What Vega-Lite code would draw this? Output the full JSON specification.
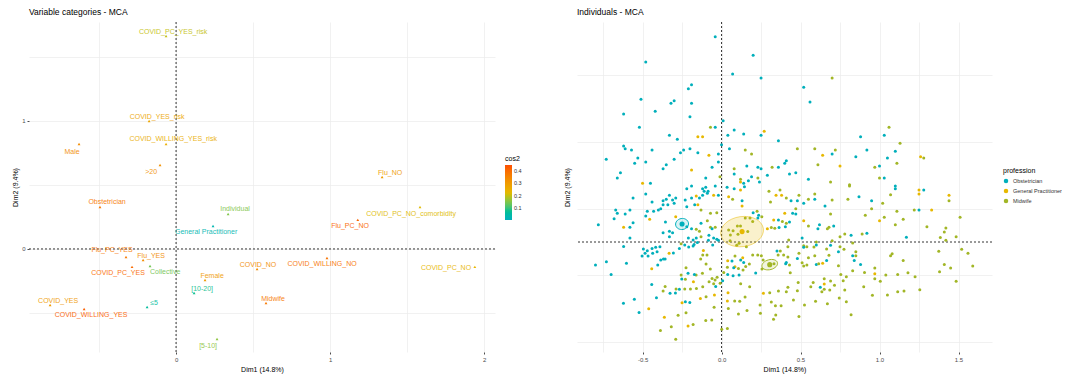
{
"$schema": "https://vega.github.io/schema/vega-lite/v6.json",
"background": "white",
"padding": {"left": 11, "top": 8, "right": 0, "bottom": 2},
"config": {
 "view": {"stroke": null},
 "font": "Liberation Sans",
 "axis": {"gridColor": "#EBEBEB", "gridWidth": 0.7, "domain": false, "labelFontSize": 6, "labelColor": "#4D4D4D", "titleFontSize": 7, "titleFontWeight": "normal", "titleColor": "black", "tickColor": "#4D4D4D", "tickSize": 2, "labelPadding": 2, "titlePadding": 3},
 "title": {"fontSize": 8.5, "fontWeight": "normal", "anchor": "start", "frame": "group", "offset": 5, "color": "black"},
 "legend": {"titleFontWeight": "normal", "titleFontSize": 7, "labelFontSize": 5.5, "labelColor": "#333333", "titleColor": "black"},
 "concat": {"spacing": 41}
},
"resolve": {"scale": {"color": "independent"}, "legend": {"color": "independent"}},
"hconcat": [
{
 "width": 466, "height": 330,
 "title": {"text": "Variable categories - MCA"},
 "data": {"values": [
  {"cat":"COVID_PC_YES_risk","x":-0.065,"y":1.664,"lx":-0.019,"ly":1.695,"cos2":0.2},
  {"cat":"COVID_YES_risk","x":-0.175,"y":1.0,"lx":-0.123,"ly":1.031,"cos2":0.27},
  {"cat":"COVID_WILLING_YES_risk","x":-0.065,"y":0.82,"lx":-0.019,"ly":0.859,"cos2":0.25},
  {"cat":"Male","x":-0.63,"y":0.82,"lx":-0.675,"ly":0.758,"cos2":0.33},
  {"cat":">20","x":-0.104,"y":0.656,"lx":-0.162,"ly":0.602,"cos2":0.32},
  {"cat":"Flu_NO","x":1.338,"y":0.5625,"lx":1.39,"ly":0.594,"cos2":0.3},
  {"cat":"Obstetrician","x":-0.494,"y":0.328,"lx":-0.448,"ly":0.367,"cos2":0.37},
  {"cat":"Individual","x":0.338,"y":0.273,"lx":0.383,"ly":0.3125,"cos2":0.15},
  {"cat":"General Practitioner","x":0.24,"y":0.18,"lx":0.195,"ly":0.133,"cos2":0.03},
  {"cat":"Flu_PC_YES","x":-0.325,"y":-0.0625,"lx":-0.416,"ly":-0.008,"cos2":0.37},
  {"cat":"Flu_YES","x":-0.214,"y":-0.086,"lx":-0.162,"ly":-0.055,"cos2":0.33},
  {"cat":"COVID_PC_YES","x":-0.286,"y":-0.14,"lx":-0.377,"ly":-0.1875,"cos2":0.4},
  {"cat":"Collective","x":-0.169,"y":-0.133,"lx":-0.071,"ly":-0.18,"cos2":0.14},
  {"cat":"Female","x":0.188,"y":-0.242,"lx":0.234,"ly":-0.211,"cos2":0.3},
  {"cat":"[10-20]","x":0.117,"y":-0.344,"lx":0.169,"ly":-0.3125,"cos2":0.08},
  {"cat":"COVID_YES","x":-0.818,"y":-0.4375,"lx":-0.766,"ly":-0.406,"cos2":0.3},
  {"cat":"COVID_WILLING_YES","x":-0.597,"y":-0.469,"lx":-0.552,"ly":-0.516,"cos2":0.42},
  {"cat":"≤5","x":-0.188,"y":-0.453,"lx":-0.143,"ly":-0.422,"cos2":0.06},
  {"cat":"[5-10]","x":0.266,"y":-0.703,"lx":0.208,"ly":-0.758,"cos2":0.16},
  {"cat":"COVID_NO","x":0.526,"y":-0.156,"lx":0.532,"ly":-0.125,"cos2":0.33},
  {"cat":"COVID_WILLING_NO","x":0.98,"y":-0.07,"lx":0.948,"ly":-0.117,"cos2":0.38},
  {"cat":"Midwife","x":0.584,"y":-0.422,"lx":0.63,"ly":-0.39,"cos2":0.37},
  {"cat":"Flu_PC_NO","x":1.18,"y":0.227,"lx":1.13,"ly":0.18,"cos2":0.41},
  {"cat":"COVID_PC_NO_comorbidity","x":1.584,"y":0.328,"lx":1.526,"ly":0.273,"cos2":0.22},
  {"cat":"COVID_PC_NO","x":1.94,"y":-0.14,"lx":1.753,"ly":-0.148,"cos2":0.23}
 ]},
 "layer": [
  {"data": {"values": [{"v": 0}]}, "mark": {"type": "rule", "strokeDash": [2, 2], "color": "black", "strokeWidth": 0.8}, "encoding": {"x": {"field": "v", "type": "quantitative"}}},
  {"data": {"values": [{"v": 0}]}, "mark": {"type": "rule", "strokeDash": [2, 2], "color": "black", "strokeWidth": 0.8}, "encoding": {"y": {"field": "v", "type": "quantitative"}}},
  {"mark": {"type": "point", "shape": "triangle-up", "filled": true, "size": 8, "opacity": 1},
   "encoding": {
    "x": {"field": "x", "type": "quantitative", "scale": {"domain": [-0.955, 2.071], "nice": false, "zero": false},
          "axis": {"title": "Dim1 (14.8%)", "values": [-0.5, 0, 0.5, 1, 1.5, 2], "labelExpr": "datum.value % 1 === 0 ? format(datum.value, 'd') : ''", "tickOpacity": {"condition": {"test": "datum.value % 1 === 0", "value": 1}, "value": 0}}},
    "y": {"field": "y", "type": "quantitative", "scale": {"domain": [-0.805, 1.773], "nice": false, "zero": false},
          "axis": {"title": "Dim2 (9.4%)", "values": [-0.5, 0, 0.5, 1, 1.5], "labelExpr": "datum.value % 1 === 0 ? format(datum.value, 'd') : ''", "tickOpacity": {"condition": {"test": "datum.value % 1 === 0", "value": 1}, "value": 0}}},
    "color": {"field": "cos2", "type": "quantitative", "scale": {"domain": [0.005, 0.225, 0.445], "range": ["#00AFBB", "#E7B800", "#FC4E07"]},
              "legend": {"title": "cos2", "orient": "none", "legendX": 476, "legendY": 133, "gradientLength": 55, "gradientThickness": 7, "values": [0.1, 0.2, 0.3, 0.4], "format": ".1f", "labelOffset": 2, "titlePadding": 3}}
   }},
  {"mark": {"type": "text", "fontSize": 7, "align": "center", "baseline": "middle", "opacity": 0.9},
   "encoding": {
    "x": {"field": "lx", "type": "quantitative"},
    "y": {"field": "ly", "type": "quantitative"},
    "text": {"field": "cat"},
    "color": {"field": "cos2", "type": "quantitative"}
   }}
 ]
},
{
 "width": 415, "height": 330,
 "title": {"text": "Individuals - MCA"},
 "data": {"values": [
{"x":-0.04,"y":1.54,"p":"O"},{"x":0.2,"y":1.4,"p":"O"},{"x":-0.48,"y":1.35,"p":"O"},{"x":0.07,"y":1.26,"p":"O"},{"x":0.25,"y":1.23,"p":"O"},{"x":-0.19,"y":1.18,"p":"O"},{"x":-0.21,"y":1.15,"p":"O"},{"x":-0.51,"y":1.07,"p":"O"},{"x":-0.3,"y":1.06,"p":"O"},{"x":-0.32,"y":1.04,"p":"O"},{"x":-0.19,"y":1.04,"p":"O"},{"x":-0.42,"y":0.98,"p":"O"},{"x":-0.62,"y":0.96,"p":"O"},{"x":-0.2,"y":0.94,"p":"O"},{"x":0.01,"y":0.91,"p":"O"},{"x":-0.52,"y":0.86,"p":"O"},{"x":-0.04,"y":0.86,"p":"O"},{"x":0.08,"y":0.84,"p":"O"},{"x":0.14,"y":0.81,"p":"O"},{"x":0.04,"y":0.8,"p":"O"},{"x":-0.33,"y":0.8,"p":"O"},{"x":0.25,"y":0.8,"p":"O"},{"x":-0.28,"y":0.77,"p":"O"},{"x":0.36,"y":0.76,"p":"O"},{"x":0,"y":0.73,"p":"O"},{"x":-0.62,"y":0.72,"p":"O"},{"x":-0.61,"y":0.7,"p":"O"},{"x":-0.57,"y":0.69,"p":"O"},{"x":-0.44,"y":0.69,"p":"O"},{"x":-0.2,"y":0.7,"p":"O"},{"x":-0.24,"y":0.69,"p":"O"},{"x":0.05,"y":0.7,"p":"O"},{"x":-0.15,"y":0.67,"p":"O"},{"x":-0.26,"y":0.67,"p":"O"},{"x":-0.02,"y":0.66,"p":"O"},{"x":-0.53,"y":0.63,"p":"O"},{"x":-0.73,"y":0.62,"p":"O"},{"x":-0.3,"y":0.62,"p":"O"},{"x":-0.48,"y":0.6,"p":"O"},{"x":-0.55,"y":0.59,"p":"O"},{"x":-0.02,"y":0.6,"p":"O"},{"x":0.41,"y":0.61,"p":"O"},{"x":0.4,"y":0.59,"p":"O"},{"x":-0.35,"y":0.58,"p":"O"},{"x":-0.37,"y":0.55,"p":"O"},{"x":-0.06,"y":0.56,"p":"O"},{"x":0.16,"y":0.57,"p":"O"},{"x":0.23,"y":0.56,"p":"O"},{"x":0.25,"y":0.55,"p":"O"},{"x":0.36,"y":0.56,"p":"O"},{"x":-0.64,"y":0.52,"p":"O"},{"x":0.08,"y":0.51,"p":"O"},{"x":0.29,"y":0.5,"p":"O"},{"x":-0.66,"y":0.48,"p":"O"},{"x":-0.1,"y":0.48,"p":"O"},{"x":0.19,"y":0.49,"p":"O"},{"x":0.17,"y":0.46,"p":"O"},{"x":0.14,"y":0.44,"p":"O"},{"x":0.24,"y":0.45,"p":"O"},{"x":-0.45,"y":0.44,"p":"O"},{"x":-0.19,"y":0.42,"p":"O"},{"x":-0.04,"y":0.42,"p":"O"},
{"x":-0.07,"y":0.86,"p":"M"},{"x":0.15,"y":0.69,"p":"M"},{"x":0.19,"y":0.66,"p":"M"},{"x":0.08,"y":0.55,"p":"M"},{"x":0.32,"y":0.56,"p":"M"},{"x":-0.01,"y":0.49,"p":"M"},{"x":0.12,"y":0.47,"p":"M"},{"x":0.23,"y":0.48,"p":"M"},
{"x":0.27,"y":0.83,"p":"G"},{"x":-0.12,"y":0.79,"p":"G"},{"x":-0.15,"y":0.79,"p":"G"},{"x":-0.08,"y":0.65,"p":"G"},{"x":-0.19,"y":0.54,"p":"G"},{"x":0.12,"y":0.45,"p":"G"},{"x":-0.5,"y":0.44,"p":"G"},
{"x":0.7,"y":1.23,"p":"M"},{"x":1.06,"y":0.86,"p":"M"},{"x":1.13,"y":0.74,"p":"M"},{"x":0.48,"y":0.7,"p":"M"},{"x":0.59,"y":0.7,"p":"M"},{"x":0.72,"y":0.69,"p":"M"},{"x":1.28,"y":0.63,"p":"M"},{"x":0.61,"y":0.58,"p":"M"},{"x":1.11,"y":0.59,"p":"M"},{"x":0.97,"y":0.56,"p":"M"},{"x":0.69,"y":0.45,"p":"M"},{"x":0.81,"y":0.43,"p":"M"},{"x":1.0,"y":0.48,"p":"M"},
{"x":0.52,"y":1.16,"p":"O"},{"x":0.56,"y":1.05,"p":"O"},{"x":0.88,"y":0.79,"p":"O"},{"x":1.03,"y":0.8,"p":"O"},{"x":0.92,"y":0.69,"p":"O"},{"x":0.7,"y":0.66,"p":"O"},{"x":1.1,"y":0.68,"p":"O"},{"x":0.85,"y":0.64,"p":"O"},{"x":1.05,"y":0.63,"p":"O"},{"x":1.0,"y":0.57,"p":"O"},{"x":0.43,"y":0.51,"p":"O"},{"x":0.47,"y":0.52,"p":"O"},{"x":0.55,"y":0.47,"p":"O"},{"x":1.03,"y":0.48,"p":"O"},{"x":1.1,"y":0.42,"p":"O"},
{"x":0.64,"y":0.65,"p":"G"},{"x":1.26,"y":0.64,"p":"G"},{"x":0.75,"y":0.57,"p":"G"},
{"x":-0.22,"y":0.4,"p":"O"},{"x":-0.12,"y":0.4,"p":"O"},{"x":-0.1,"y":0.41,"p":"O"},{"x":-0.085,"y":0.38,"p":"O"},{"x":-0.11,"y":0.38,"p":"O"},{"x":0.035,"y":0.41,"p":"O"},{"x":0.08,"y":0.4,"p":"O"},{"x":0.12,"y":0.39,"p":"G"},{"x":0.145,"y":0.415,"p":"O"},{"x":0.3,"y":0.38,"p":"M"},{"x":0.37,"y":0.39,"p":"M"},
{"x":-0.56,"y":0.33,"p":"O"},{"x":-0.48,"y":0.36,"p":"O"},{"x":-0.44,"y":0.3,"p":"O"},{"x":-0.37,"y":0.31,"p":"O"},{"x":-0.37,"y":0.28,"p":"O"},{"x":-0.35,"y":0.32,"p":"O"},{"x":-0.33,"y":0.35,"p":"O"},{"x":-0.31,"y":0.315,"p":"O"},{"x":-0.3,"y":0.29,"p":"O"},{"x":-0.34,"y":0.28,"p":"O"},{"x":-0.29,"y":0.33,"p":"O"},{"x":-0.23,"y":0.315,"p":"O"},{"x":-0.19,"y":0.33,"p":"O"},{"x":-0.16,"y":0.345,"p":"G"},{"x":-0.14,"y":0.33,"p":"O"},{"x":-0.12,"y":0.35,"p":"O"},{"x":-0.09,"y":0.365,"p":"O"},{"x":-0.05,"y":0.35,"p":"G"},{"x":-0.02,"y":0.35,"p":"O"},{"x":0.045,"y":0.34,"p":"G"},{"x":0.07,"y":0.32,"p":"M"},{"x":0.13,"y":0.27,"p":"G"},{"x":0.13,"y":0.31,"p":"O"},{"x":0.31,"y":0.3,"p":"M"},{"x":0.345,"y":0.35,"p":"G"},{"x":0.38,"y":0.35,"p":"G"},{"x":0.41,"y":0.33,"p":"M"},
{"x":-0.67,"y":0.24,"p":"O"},{"x":-0.66,"y":0.215,"p":"O"},{"x":-0.58,"y":0.24,"p":"O"},{"x":-0.61,"y":0.21,"p":"O"},{"x":-0.68,"y":0.175,"p":"O"},{"x":-0.47,"y":0.23,"p":"O"},{"x":-0.455,"y":0.17,"p":"G"},{"x":-0.48,"y":0.195,"p":"O"},{"x":-0.43,"y":0.23,"p":"O"},{"x":-0.4,"y":0.24,"p":"O"},{"x":-0.385,"y":0.25,"p":"O"},{"x":-0.22,"y":0.265,"p":"O"},{"x":-0.17,"y":0.28,"p":"O"},{"x":-0.15,"y":0.28,"p":"G"},{"x":-0.13,"y":0.24,"p":"M"},{"x":-0.03,"y":0.22,"p":"M"},{"x":-0.07,"y":0.215,"p":"M"},{"x":0.15,"y":0.18,"p":"M"},{"x":0.18,"y":0.18,"p":"M"},{"x":0.2,"y":0.22,"p":"O"},{"x":0.225,"y":0.23,"p":"M"},{"x":0.235,"y":0.2,"p":"O"},{"x":0.255,"y":0.19,"p":"M"},{"x":0.33,"y":0.165,"p":"G"},{"x":0.36,"y":0.165,"p":"O"},{"x":0.4,"y":0.215,"p":"G"},{"x":0.41,"y":0.14,"p":"M"},
{"x":-0.78,"y":0.13,"p":"O"},{"x":-0.62,"y":0.11,"p":"G"},{"x":-0.58,"y":0.11,"p":"O"},{"x":-0.56,"y":0.145,"p":"O"},{"x":-0.355,"y":0.15,"p":"O"},{"x":-0.29,"y":0.19,"p":"G"},{"x":-0.33,"y":0.08,"p":"O"},{"x":-0.31,"y":0.07,"p":"O"},{"x":-0.37,"y":0.07,"p":"O"},{"x":-0.33,"y":0.04,"p":"O"},{"x":-0.58,"y":0.03,"p":"O"},{"x":-0.22,"y":0.115,"p":"O"},{"x":-0.13,"y":0.14,"p":"O"},{"x":-0.16,"y":0.095,"p":"M"},{"x":-0.14,"y":0.08,"p":"M"},{"x":-0.19,"y":0.1,"p":"O"},{"x":-0.09,"y":0.16,"p":"M"},{"x":-0.07,"y":0.11,"p":"M"},{"x":-0.04,"y":0.11,"p":"M"},{"x":-0.13,"y":0.04,"p":"M"},{"x":-0.18,"y":0.015,"p":"O"},{"x":-0.16,"y":0.03,"p":"O"},{"x":-0.21,"y":0.03,"p":"O"},{"x":-0.08,"y":0.05,"p":"O"},{"x":-0.06,"y":0.1,"p":"O"},{"x":-0.05,"y":0.03,"p":"O"},{"x":-0.03,"y":0.02,"p":"O"},{"x":0.056,"y":0.053,"p":"M"},{"x":0.045,"y":0.09,"p":"M"},{"x":0.073,"y":0.085,"p":"M"},{"x":0.1,"y":0.12,"p":"M"},{"x":0.12,"y":0.12,"p":"M"},{"x":0.166,"y":0.078,"p":"M"},{"x":0.104,"y":0.058,"p":"M"},{"x":0.197,"y":0.153,"p":"M"},{"x":0.23,"y":0.18,"p":"O"},{"x":0.29,"y":0.1,"p":"G"},{"x":0.315,"y":0.108,"p":"M"},{"x":0.337,"y":0.103,"p":"M"},{"x":0.364,"y":0.108,"p":"O"},{"x":0.385,"y":0.153,"p":"M"},{"x":0.404,"y":0.115,"p":"O"},
{"x":-0.62,"y":-0.033,"p":"O"},{"x":-0.495,"y":-0.053,"p":"O"},{"x":-0.47,"y":-0.065,"p":"O"},{"x":-0.44,"y":-0.048,"p":"O"},{"x":-0.417,"y":-0.04,"p":"O"},{"x":-0.39,"y":-0.035,"p":"O"},{"x":-0.256,"y":-0.013,"p":"M"},{"x":-0.233,"y":-0.023,"p":"O"},{"x":-0.208,"y":-0.038,"p":"O"},{"x":-0.18,"y":-0.03,"p":"O"},{"x":-0.153,"y":-0.003,"p":"O"},{"x":-0.083,"y":0.013,"p":"O"},{"x":-0.503,"y":-0.105,"p":"O"},{"x":-0.484,"y":-0.085,"p":"O"},{"x":-0.436,"y":-0.085,"p":"O"},{"x":-0.408,"y":-0.073,"p":"O"},{"x":-0.465,"y":-0.105,"p":"O"},{"x":-0.404,"y":-0.173,"p":"O"},{"x":-0.385,"y":-0.135,"p":"O"},{"x":-0.357,"y":-0.128,"p":"O"},{"x":-0.332,"y":-0.085,"p":"G"},{"x":-0.305,"y":-0.083,"p":"O"},{"x":-0.267,"y":-0.048,"p":"O"},{"x":-0.174,"y":-0.018,"p":"O"},{"x":-0.115,"y":-0.063,"p":"G"},{"x":-0.056,"y":-0.023,"p":"O"},{"x":-0.02,"y":0.013,"p":"O"},{"x":0.054,"y":0.01,"p":"M"},{"x":0.111,"y":-0.01,"p":"M"},{"x":0.157,"y":-0.035,"p":"M"},{"x":0.096,"y":-0.025,"p":"M"},{"x":-0.119,"y":-0.098,"p":"M"},{"x":-0.132,"y":-0.128,"p":"M"},{"x":-0.092,"y":-0.098,"p":"M"},{"x":-0.098,"y":-0.165,"p":"M"},{"x":0.039,"y":-0.14,"p":"G"},{"x":0.066,"y":-0.143,"p":"O"},{"x":0.085,"y":-0.105,"p":"M"},{"x":0.085,"y":-0.185,"p":"G"},{"x":0.121,"y":-0.135,"p":"O"},{"x":0.134,"y":-0.118,"p":"G"},{"x":0.14,"y":-0.153,"p":"O"},{"x":0.176,"y":-0.165,"p":"M"},{"x":0.197,"y":-0.098,"p":"M"},{"x":0.229,"y":-0.098,"p":"M"},{"x":0.252,"y":-0.103,"p":"M"},{"x":0.263,"y":-0.135,"p":"M"},{"x":0.332,"y":-0.163,"p":"M"},{"x":0.358,"y":-0.098,"p":"M"},{"x":0.351,"y":-0.068,"p":"O"},{"x":0.372,"y":-0.068,"p":"M"},{"x":0.393,"y":-0.098,"p":"M"},{"x":0.406,"y":-0.163,"p":"O"},
{"x":-0.798,"y":-0.173,"p":"O"},{"x":-0.729,"y":-0.148,"p":"O"},{"x":-0.602,"y":-0.16,"p":"O"},{"x":-0.699,"y":-0.243,"p":"O"},{"x":-0.442,"y":-0.2,"p":"G"},{"x":-0.368,"y":-0.128,"p":"O"},{"x":-0.225,"y":-0.193,"p":"M"},{"x":-0.161,"y":-0.248,"p":"M"},{"x":-0.212,"y":-0.235,"p":"O"},{"x":-0.256,"y":-0.248,"p":"M"},{"x":-0.252,"y":-0.278,"p":"O"},{"x":-0.229,"y":-0.28,"p":"M"},{"x":-0.172,"y":-0.243,"p":"O"},{"x":-0.178,"y":-0.298,"p":"G"},{"x":-0.121,"y":-0.235,"p":"M"},{"x":-0.071,"y":-0.203,"p":"M"},{"x":-0.06,"y":-0.273,"p":"M"},{"x":-0.041,"y":-0.285,"p":"M"},{"x":-0.079,"y":-0.298,"p":"M"},{"x":-0.05,"y":-0.313,"p":"M"},{"x":-0.028,"y":-0.265,"p":"M"},{"x":0.014,"y":-0.228,"p":"M"},{"x":0.039,"y":-0.243,"p":"O"},{"x":0.073,"y":-0.253,"p":"O"},{"x":0.111,"y":-0.248,"p":"O"},{"x":0.037,"y":-0.19,"p":"M"},{"x":0.077,"y":-0.193,"p":"O"},{"x":0.107,"y":-0.198,"p":"M"},{"x":0.136,"y":-0.21,"p":"M"},{"x":0.153,"y":-0.183,"p":"M"},{"x":0.216,"y":-0.233,"p":"O"},{"x":0.256,"y":-0.203,"p":"M"},{"x":-0.009,"y":-0.31,"p":"M"},{"x":0.007,"y":-0.29,"p":"O"},
{"x":-0.442,"y":-0.318,"p":"O"},{"x":-0.357,"y":-0.333,"p":"M"},{"x":-0.37,"y":-0.368,"p":"M"},{"x":-0.326,"y":-0.385,"p":"O"},{"x":-0.292,"y":-0.383,"p":"O"},{"x":-0.288,"y":-0.353,"p":"M"},{"x":-0.267,"y":-0.355,"p":"O"},{"x":-0.233,"y":-0.353,"p":"M"},{"x":-0.197,"y":-0.353,"p":"M"},{"x":-0.159,"y":-0.348,"p":"M"},{"x":-0.119,"y":-0.335,"p":"M"},{"x":-0.037,"y":-0.333,"p":"O"},{"x":-0.045,"y":-0.398,"p":"G"},{"x":-0.412,"y":-0.418,"p":"O"},{"x":-0.621,"y":-0.46,"p":"O"},{"x":-0.552,"y":-0.43,"p":"O"},{"x":-0.25,"y":-0.455,"p":"G"},{"x":-0.229,"y":-0.448,"p":"O"},{"x":-0.201,"y":-0.453,"p":"O"},{"x":-0.134,"y":-0.423,"p":"G"},{"x":-0.098,"y":-0.41,"p":"M"},{"x":0.041,"y":-0.38,"p":"G"},{"x":0.037,"y":-0.443,"p":"G"},{"x":0.083,"y":-0.443,"p":"M"},{"x":0.115,"y":-0.445,"p":"M"},{"x":0.149,"y":-0.413,"p":"M"},{"x":0.121,"y":-0.313,"p":"M"},{"x":0.178,"y":-0.335,"p":"M"},{"x":0.265,"y":-0.385,"p":"G"},{"x":0.305,"y":-0.38,"p":"M"},{"x":0.36,"y":-0.368,"p":"M"},{"x":0.043,"y":-0.498,"p":"M"},{"x":0.244,"y":-0.473,"p":"M"},{"x":0.315,"y":-0.45,"p":"M"},{"x":0.341,"y":-0.478,"p":"M"},{"x":0.377,"y":-0.478,"p":"M"},{"x":-0.522,"y":-0.528,"p":"O"},{"x":-0.461,"y":-0.5,"p":"G"},
{"x":-0.275,"y":-0.55,"p":"M"},{"x":-0.362,"y":-0.565,"p":"G"},{"x":-0.225,"y":-0.53,"p":"M"},{"x":-0.18,"y":-0.618,"p":"M"},{"x":-0.1,"y":-0.588,"p":"M"},{"x":-0.062,"y":-0.585,"p":"M"},{"x":-0.047,"y":-0.49,"p":"M"},{"x":0.107,"y":-0.54,"p":"M"},{"x":0.161,"y":-0.513,"p":"M"},{"x":0.246,"y":-0.535,"p":"M"},{"x":0.343,"y":-0.548,"p":"M"},{"x":0.329,"y":-0.58,"p":"M"},{"x":-0.387,"y":-0.663,"p":"M"},{"x":-0.318,"y":-0.635,"p":"M"},{"x":-0.212,"y":-0.63,"p":"G"},{"x":0.001,"y":-0.655,"p":"M"},{"x":0.037,"y":-0.648,"p":"M"},{"x":-0.29,"y":-0.73,"p":"M"},
{"x":0.49,"y":0.35,"p":"M"},{"x":0.59,"y":0.36,"p":"M"},{"x":0.81,"y":0.42,"p":"M"},{"x":0.44,"y":0.31,"p":"O"},{"x":0.48,"y":0.31,"p":"O"},{"x":0.55,"y":0.32,"p":"M"},{"x":0.59,"y":0.32,"p":"O"},{"x":0.52,"y":0.29,"p":"O"},{"x":0.7,"y":0.315,"p":"M"},{"x":0.655,"y":0.27,"p":"O"},{"x":0.8,"y":0.32,"p":"M"},{"x":0.87,"y":0.34,"p":"O"},{"x":0.95,"y":0.31,"p":"O"},{"x":1.07,"y":0.355,"p":"M"},{"x":1.1,"y":0.4,"p":"O"},{"x":1.25,"y":0.39,"p":"G"},{"x":1.25,"y":0.36,"p":"G"},{"x":1.28,"y":0.39,"p":"O"},{"x":1.44,"y":0.35,"p":"G"},{"x":1.44,"y":0.31,"p":"M"},{"x":1.02,"y":0.29,"p":"M"},{"x":0.47,"y":0.25,"p":"M"},{"x":0.45,"y":0.215,"p":"O"},{"x":0.47,"y":0.21,"p":"O"},{"x":0.43,"y":0.15,"p":"O"},{"x":0.69,"y":0.21,"p":"M"},{"x":0.95,"y":0.25,"p":"M"},{"x":0.91,"y":0.2,"p":"M"},{"x":1.11,"y":0.23,"p":"M"},{"x":1.22,"y":0.24,"p":"M"},{"x":1.25,"y":0.24,"p":"O"},{"x":1.33,"y":0.24,"p":"G"},{"x":1.51,"y":0.185,"p":"M"},{"x":0.52,"y":0.16,"p":"G"},{"x":0.55,"y":0.12,"p":"M"},{"x":0.62,"y":0.13,"p":"O"},{"x":0.61,"y":0.1,"p":"O"},{"x":0.67,"y":0.1,"p":"M"},{"x":0.68,"y":0.11,"p":"M"},{"x":0.71,"y":0.12,"p":"O"},{"x":1.0,"y":0.16,"p":"G"},{"x":1.03,"y":0.185,"p":"M"},{"x":1.15,"y":0.17,"p":"M"},{"x":1.1,"y":0.13,"p":"M"},{"x":1.3,"y":0.115,"p":"M"},{"x":1.42,"y":0.105,"p":"M"},{"x":1.41,"y":0.075,"p":"M"},{"x":0.75,"y":0.04,"p":"M"},{"x":0.78,"y":0.06,"p":"M"},{"x":0.82,"y":0.05,"p":"O"},{"x":0.89,"y":0.06,"p":"M"},{"x":0.92,"y":0.065,"p":"O"},{"x":0.425,"y":0.015,"p":"M"},{"x":0.51,"y":0.03,"p":"O"},{"x":0.6,"y":0.0,"p":"M"},{"x":0.7,"y":0.01,"p":"M"},{"x":1.17,"y":0.035,"p":"O"},{"x":1.385,"y":0.033,"p":"M"},{"x":1.42,"y":0.013,"p":"M"},{"x":1.485,"y":0.04,"p":"M"},
{"x":0.42,"y":-0.035,"p":"M"},{"x":0.52,"y":-0.028,"p":"M"},{"x":0.52,"y":-0.04,"p":"O"},{"x":0.54,"y":-0.035,"p":"M"},{"x":0.585,"y":-0.038,"p":"M"},{"x":0.6,"y":-0.023,"p":"O"},{"x":0.69,"y":-0.025,"p":"O"},{"x":0.75,"y":-0.035,"p":"M"},{"x":0.775,"y":-0.055,"p":"M"},{"x":0.665,"y":-0.053,"p":"M"},{"x":0.83,"y":-0.008,"p":"M"},{"x":0.74,"y":-0.073,"p":"O"},{"x":0.85,"y":-0.073,"p":"M"},{"x":0.68,"y":-0.1,"p":"M"},{"x":0.83,"y":-0.103,"p":"O"},{"x":0.85,"y":-0.103,"p":"M"},{"x":0.49,"y":-0.085,"p":"M"},{"x":0.59,"y":-0.103,"p":"M"},{"x":0.55,"y":-0.118,"p":"M"},{"x":0.42,"y":-0.113,"p":"M"},{"x":0.48,"y":-0.123,"p":"O"},{"x":0.41,"y":-0.153,"p":"O"},{"x":0.43,"y":-0.173,"p":"M"},{"x":0.51,"y":-0.155,"p":"M"},{"x":0.52,"y":-0.18,"p":"M"},{"x":0.54,"y":-0.173,"p":"M"},{"x":0.6,"y":-0.168,"p":"O"},{"x":0.615,"y":-0.163,"p":"M"},{"x":0.64,"y":-0.16,"p":"G"},{"x":0.665,"y":-0.138,"p":"O"},{"x":0.84,"y":-0.138,"p":"O"},{"x":0.88,"y":-0.168,"p":"O"},{"x":0.74,"y":-0.178,"p":"M"},{"x":1.07,"y":-0.103,"p":"M"},{"x":1.08,"y":-0.088,"p":"M"},{"x":1.15,"y":-0.138,"p":"M"},{"x":1.375,"y":-0.07,"p":"M"},{"x":1.41,"y":-0.168,"p":"M"},{"x":1.45,"y":-0.195,"p":"M"},{"x":1.52,"y":-0.055,"p":"M"},{"x":1.56,"y":-0.085,"p":"M"},{"x":1.59,"y":-0.18,"p":"M"},{"x":0.97,"y":-0.195,"p":"M"},{"x":0.97,"y":-0.238,"p":"G"},{"x":0.83,"y":-0.215,"p":"M"},{"x":0.905,"y":-0.228,"p":"M"},{"x":0.435,"y":-0.23,"p":"M"},{"x":0.755,"y":-0.243,"p":"M"},{"x":0.79,"y":-0.26,"p":"M"},{"x":1.04,"y":-0.248,"p":"M"},{"x":1.115,"y":-0.243,"p":"M"},{"x":1.18,"y":-0.23,"p":"M"},{"x":1.225,"y":-0.26,"p":"M"},{"x":1.38,"y":-0.223,"p":"M"},{"x":0.65,"y":-0.275,"p":"M"},{"x":0.69,"y":-0.293,"p":"M"},{"x":0.77,"y":-0.29,"p":"M"},{"x":0.97,"y":-0.275,"p":"M"},{"x":1.005,"y":-0.295,"p":"M"},{"x":1.485,"y":-0.295,"p":"M"},{"x":0.485,"y":-0.303,"p":"M"},{"x":0.58,"y":-0.303,"p":"M"},{"x":0.65,"y":-0.315,"p":"G"},{"x":0.565,"y":-0.335,"p":"M"},{"x":0.625,"y":-0.34,"p":"O"},{"x":0.715,"y":-0.325,"p":"M"},{"x":0.9,"y":-0.335,"p":"M"},{"x":0.65,"y":-0.355,"p":"M"},{"x":0.635,"y":-0.373,"p":"M"},{"x":0.685,"y":-0.36,"p":"M"},{"x":0.78,"y":-0.36,"p":"M"},{"x":0.41,"y":-0.373,"p":"M"},{"x":0.42,"y":-0.34,"p":"M"},{"x":0.48,"y":-0.365,"p":"M"},{"x":1.05,"y":-0.398,"p":"M"},{"x":1.115,"y":-0.373,"p":"M"},{"x":1.155,"y":-0.368,"p":"M"},{"x":1.255,"y":-0.358,"p":"M"},{"x":0.955,"y":-0.4,"p":"M"},{"x":0.745,"y":-0.42,"p":"M"},{"x":0.455,"y":-0.435,"p":"M"},{"x":0.595,"y":-0.445,"p":"M"},{"x":0.79,"y":-0.448,"p":"M"},{"x":0.525,"y":-0.473,"p":"M"},{"x":0.67,"y":-0.463,"p":"M"},{"x":0.49,"y":-0.558,"p":"M"},{"x":0.82,"y":-0.545,"p":"M"}
 ]},
 "layer": [
  {"data": {"values": [{"v": 0}]}, "mark": {"type": "rule", "strokeDash": [2, 2], "color": "black", "strokeWidth": 0.8}, "encoding": {"x": {"field": "v", "type": "quantitative"}}},
  {"data": {"values": [{"v": 0}]}, "mark": {"type": "rule", "strokeDash": [2, 2], "color": "black", "strokeWidth": 0.8}, "encoding": {"y": {"field": "v", "type": "quantitative"}}},
  {"mark": {"type": "point", "shape": "circle", "filled": true, "size": 9, "opacity": 1},
   "encoding": {
    "x": {"field": "x", "type": "quantitative", "scale": {"domain": [-0.915, 1.712], "nice": false, "zero": false},
          "axis": {"title": "Dim1 (14.8%)", "values": [-0.75, -0.5, -0.25, 0, 0.25, 0.5, 0.75, 1, 1.25, 1.5], "labelExpr": "datum.value % 0.5 === 0 ? replace(format(datum.value, '.1f'), '\u2212', '-') : ''", "tickOpacity": {"condition": {"test": "datum.value % 0.5 === 0", "value": 1}, "value": 0}}},
    "y": {"field": "y", "type": "quantitative", "scale": {"domain": [-0.825, 1.65], "nice": false, "zero": false},
          "axis": {"title": "Dim2 (9.4%)", "values": [-0.75, -0.5, -0.25, 0, 0.25, 0.5, 0.75, 1, 1.25, 1.5], "labelExpr": "datum.value % 0.5 === 0 ? replace(format(datum.value, '.1f'), '\u2212', '-') : ''", "tickOpacity": {"condition": {"test": "datum.value % 0.5 === 0", "value": 1}, "value": 0}}},
    "color": {"field": "p", "type": "nominal", "scale": {"domain": ["O", "G", "M"], "range": ["#00AFBB", "#E7B800", "#A2B626"]},
              "legend": {"title": "profession", "orient": "none", "legendX": 426, "legendY": 145, "symbolType": "circle", "symbolSize": 20, "labelFontSize": 5.5, "rowPadding": 3, "titlePadding": 4,
                         "labelExpr": "datum.label === 'O' ? 'Obstetrician' : datum.label === 'G' ? 'General Practitioner' : 'Midwife'"}}
   }},
  {"data": {"values": [{"x": -0.25, "y": 0.135, "p": "O"}, {"x": 0.13, "y": 0.078, "p": "G"}, {"x": 0.305, "y": -0.17, "p": "M"}]},
   "layer": [
    {"transform": [{"filter": "datum.p === 'G'"}], "mark": {"type": "point", "shape": "M-1,0A1,0.7,0,1,1,1,0A1,0.7,0,1,1,-1,0Z", "size": 1849, "angle": -8, "filled": true, "fill": "#E7B800", "fillOpacity": 0.2, "stroke": "#E7B800", "strokeOpacity": 0.6, "strokeWidth": 0.8},
     "encoding": {"x": {"field": "x", "type": "quantitative"}, "y": {"field": "y", "type": "quantitative"}}},
    {"transform": [{"filter": "datum.p === 'O'"}], "mark": {"type": "point", "shape": "M-1,0A1,0.85,0,1,1,1,0A1,0.85,0,1,1,-1,0Z", "size": 169, "angle": -10, "filled": true, "fill": "#00AFBB", "fillOpacity": 0.15, "stroke": "#00AFBB", "strokeWidth": 0.9},
     "encoding": {"x": {"field": "x", "type": "quantitative"}, "y": {"field": "y", "type": "quantitative"}}},
    {"transform": [{"filter": "datum.p === 'M'"}], "mark": {"type": "point", "shape": "M-1,0A1,0.62,0,1,1,1,0A1,0.62,0,1,1,-1,0Z", "size": 256, "angle": -15, "filled": true, "fill": "#A2B626", "fillOpacity": 0.15, "stroke": "#A2B626", "strokeWidth": 0.9},
     "encoding": {"x": {"field": "x", "type": "quantitative"}, "y": {"field": "y", "type": "quantitative"}}},
    {"mark": {"type": "point", "shape": "circle", "filled": true, "size": 26, "opacity": 1},
     "encoding": {"x": {"field": "x", "type": "quantitative"}, "y": {"field": "y", "type": "quantitative"}, "color": {"field": "p", "type": "nominal"}}}
   ]}
 ]
}
]
}
